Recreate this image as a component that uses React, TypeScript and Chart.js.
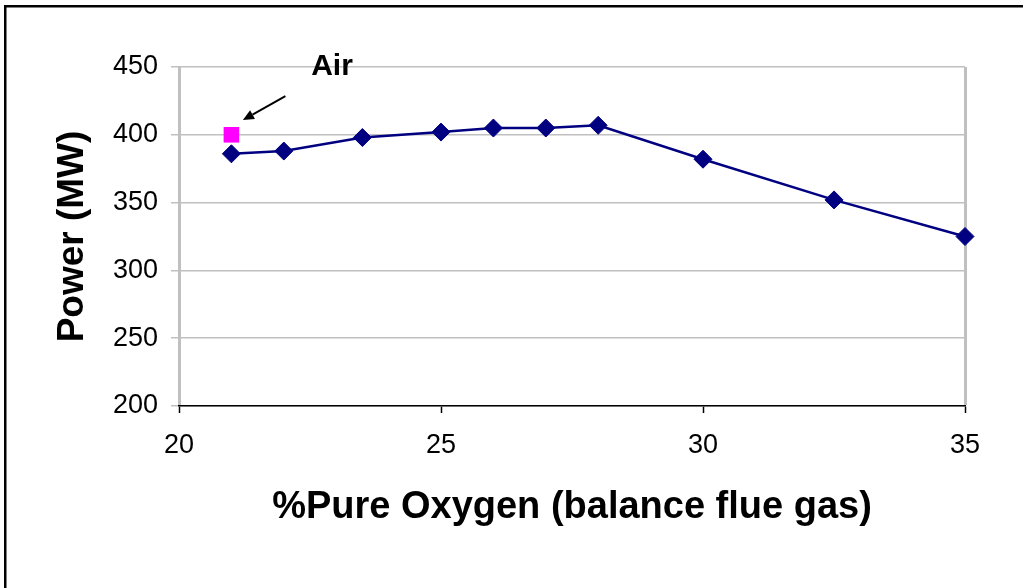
import React, { useEffect, useRef } from 'react';
import { Chart, registerables } from 'chart.js';

Chart.register(...registerables);

// ---- data ----
const oxygenPct = [21, 22, 23.5, 25, 26, 27, 28, 30, 32.5, 35, 37.5];
const powerMW = [386, 388, 398, 402, 405, 405, 407, 382, 352, 325, 301];
const airPct = [21];
const airPowerMW = [400];
const xTickValues = [20, 25, 30, 35];
const yTickValues = [200, 250, 300, 350, 400, 450];
const xTitle = '%Pure Oxygen (balance flue gas)';
const yTitle = 'Power (MW)';
const airLabel = 'Air';
const airLabelAt = [22.92, 450];
const airArrowFrom = [22.03, 428.5];
const airArrowTo = [21.22, 411];

const FONT = "'Liberation Sans', Arial, Helvetica, sans-serif";
const GRID = '#c0c0c0';

const framePlugin = {
  id: 'frame',
  beforeDraw(chart: any) {
    const ctx = chart.ctx;
    ctx.save();
    ctx.fillStyle = '#ffffff';
    ctx.fillRect(0, 0, chart.width, chart.height);
    ctx.strokeStyle = '#000000';
    ctx.lineWidth = 2.5;
    ctx.strokeRect(5.25, 6.25, chart.width + 40, chart.height + 40);
    ctx.restore();
  },
};

const airNotePlugin = {
  id: 'airNote',
  afterDraw(chart: any) {
    const ctx = chart.ctx;
    const xs = chart.scales.x;
    const ys = chart.scales.y;
    ctx.save();
    ctx.fillStyle = '#000';
    ctx.font = `bold 30px ${FONT}`;
    ctx.textAlign = 'center';
    ctx.textBaseline = 'middle';
    ctx.fillText(airLabel, xs.getPixelForValue(airLabelAt[0]), ys.getPixelForValue(airLabelAt[1]));
    const x1 = xs.getPixelForValue(airArrowFrom[0]);
    const y1 = ys.getPixelForValue(airArrowFrom[1]);
    const x2 = xs.getPixelForValue(airArrowTo[0]);
    const y2 = ys.getPixelForValue(airArrowTo[1]);
    const ang = Math.atan2(y2 - y1, x2 - x1);
    const headLen = 11;
    const headW = 5;
    const bx = x2 - headLen * Math.cos(ang);
    const by = y2 - headLen * Math.sin(ang);
    ctx.strokeStyle = '#000';
    ctx.lineWidth = 2;
    ctx.beginPath();
    ctx.moveTo(x1, y1);
    ctx.lineTo(bx, by);
    ctx.stroke();
    ctx.beginPath();
    ctx.moveTo(x2, y2);
    ctx.lineTo(bx + headW * Math.sin(ang), by - headW * Math.cos(ang));
    ctx.lineTo(bx - headW * Math.sin(ang), by + headW * Math.cos(ang));
    ctx.closePath();
    ctx.fill();
    ctx.restore();
  },
};

export default function App() {
  const ref = useRef<HTMLCanvasElement | null>(null);

  useEffect(() => {
    document.body.style.margin = '0';
    const canvas = ref.current;
    if (!canvas) return;
    const chart = new Chart(canvas, {
      type: 'scatter',
      data: {
        datasets: [
          {
            label: 'Power',
            data: oxygenPct.map((x, i) => ({ x, y: powerMW[i] })),
            showLine: true,
            borderColor: '#000080',
            backgroundColor: '#000080',
            borderWidth: 2.5,
            pointStyle: 'rectRot',
            pointRadius: 9,
            pointBorderWidth: 1,
            pointBackgroundColor: '#000080',
            pointBorderColor: '#000080',
            clip: { left: 0, top: 0, right: 12, bottom: 0 } as any,
          },
          {
            label: 'Air',
            data: airPct.map((x, i) => ({ x, y: airPowerMW[i] })),
            showLine: false,
            pointStyle: 'rect',
            pointRadius: 11,
            pointBorderWidth: 0,
            backgroundColor: '#ff00ff',
            borderColor: '#ff00ff',
          },
        ],
      },
      options: {
        responsive: false,
        devicePixelRatio: 1,
        animation: false,
        layout: { padding: { left: 0, top: 67, right: 58, bottom: 0 } },
        plugins: { legend: { display: false }, tooltip: { enabled: false } },
        scales: {
          x: {
            type: 'linear',
            min: 20,
            max: 35,
            afterBuildTicks: (s: any) => {
              s.ticks = xTickValues.map((v) => ({ value: v }));
            },
            afterFit: (s: any) => {
              s.height = 182;
            },
            ticks: {
              color: '#000',
              font: { family: FONT, size: 27 },
              padding: 16,
              maxRotation: 0,
              autoSkip: false,
            },
            grid: {
              color: (c: any) => (c.tick && c.tick.value === 35 ? GRID : 'rgba(0,0,0,0)'),
              lineWidth: (c: any) => (c.tick && c.tick.value === 35 ? 3 : 1),
              tickColor: '#000',
              tickWidth: 1.5,
              tickLength: 7,
              drawTicks: true,
            },
            border: { display: true, color: '#000', width: 1.5, z: 1 },
            title: {
              display: true,
              text: xTitle,
              color: '#000',
              font: { family: FONT, size: 38, weight: 'bold' },
              padding: { top: 0, bottom: 58 },
            },
          },
          y: {
            type: 'linear',
            min: 200,
            max: 450,
            afterBuildTicks: (s: any) => {
              s.ticks = yTickValues.map((v) => ({ value: v }));
            },
            afterFit: (s: any) => {
              s.width = 179;
            },
            ticks: {
              color: '#000',
              font: { family: FONT, size: 27 },
              padding: 13,
            },
            grid: {
              color: GRID,
              lineWidth: 1.5,
              tickColor: GRID,
              tickWidth: 1.5,
              tickLength: 8,
            },
            border: { display: true, color: GRID, width: 3 },
            title: {
              display: true,
              text: yTitle,
              color: '#000',
              font: { family: FONT, size: 37, weight: 'bold' },
              padding: { top: 51, bottom: 0 },
            },
          },
        },
      },
      plugins: [framePlugin, airNotePlugin],
    });
    return () => chart.destroy();
  }, []);

  return (
    <div style={{ position: 'fixed', left: 0, top: 0, width: 1023, height: 588 }}>
      <canvas ref={ref} width={1023} height={588} />
    </div>
  );
}
